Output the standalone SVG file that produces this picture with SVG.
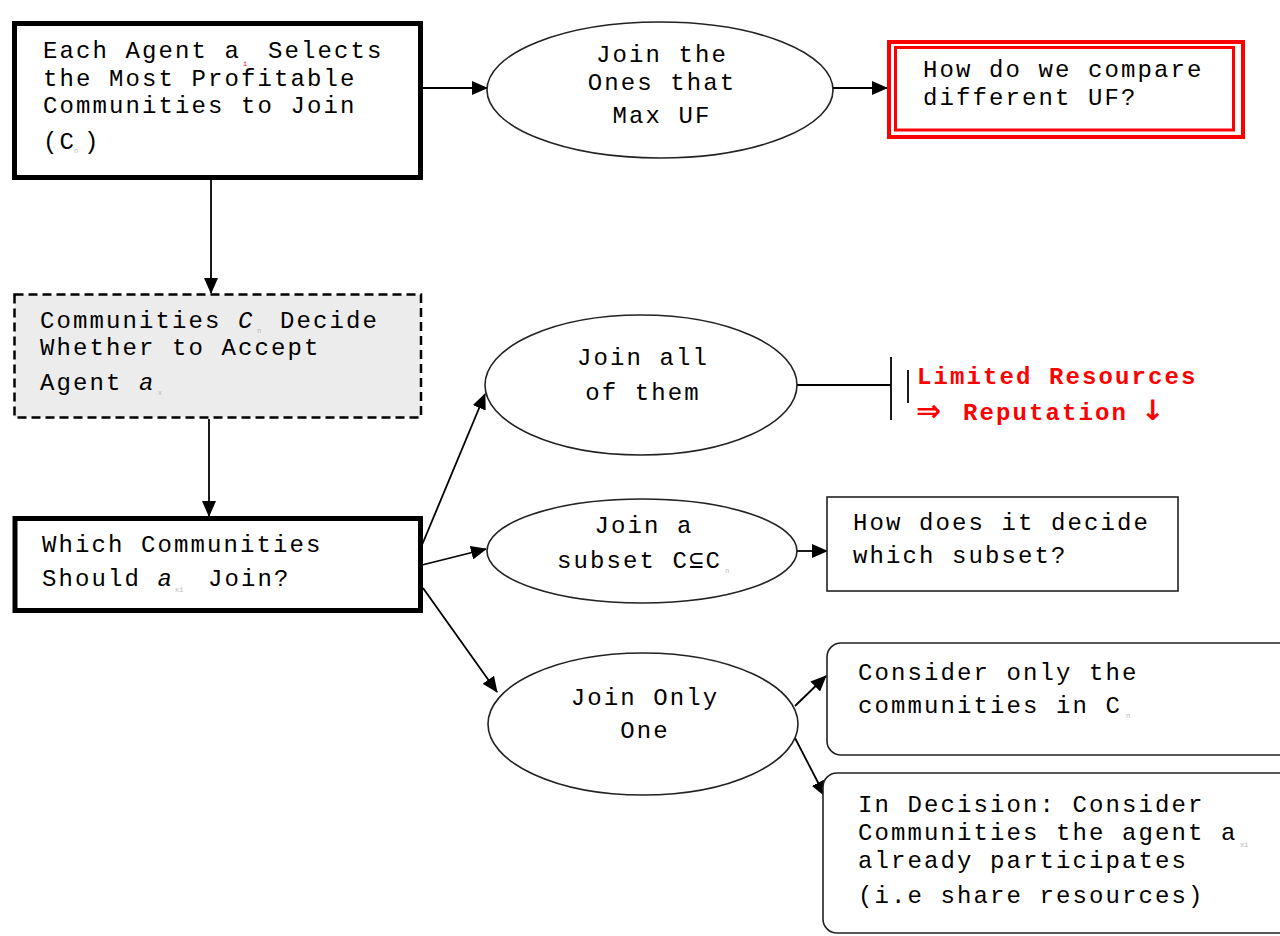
<svg xmlns="http://www.w3.org/2000/svg" width="1280" height="936" viewBox="0 0 1280 936">
  <defs>
    <marker id="arrow" markerUnits="userSpaceOnUse" markerWidth="16" markerHeight="14" refX="15" refY="7" orient="auto">
      <path d="M0,0 L16,7 L0,14 Z" fill="#000"/>
    </marker>
    <style>
      .t { font-family: "Liberation Mono", "DejaVu Sans Mono", monospace; font-size: 24px; letter-spacing: 2.1px; fill: #000; }
      .c { text-anchor: middle; }
      .red { font-weight: bold; fill: #ff0000; }
      .sym { font-family: "DejaVu Sans", sans-serif; font-weight: bold; fill: #ff0000; }
      .sub { font-family: "Liberation Mono", "DejaVu Sans Mono", monospace; font-size: 7px; fill: #b8b8b8; }
      .thick { fill: #fff; stroke: #000; stroke-width: 5; }
      .oval { fill: #fff; stroke: #222; stroke-width: 1.6; }
      .plain { fill: #fff; stroke: #222; stroke-width: 1.6; }
      .conn { stroke: #000; stroke-width: 1.8; fill: none; }
    </style>
  </defs>
  <rect width="1280" height="936" fill="#fff"/>

  <!-- connectors -->
  <g id="connectors">
    <line class="conn" x1="423" y1="88" x2="487" y2="88" marker-end="url(#arrow)"/>
    <line class="conn" x1="833" y1="88" x2="887" y2="88" marker-end="url(#arrow)"/>
    <line class="conn" x1="211" y1="180" x2="211" y2="293" marker-end="url(#arrow)"/>
    <line class="conn" x1="209" y1="419" x2="209" y2="516" marker-end="url(#arrow)"/>
    <line class="conn" x1="422" y1="545" x2="485" y2="394" marker-end="url(#arrow)"/>
    <line class="conn" x1="422" y1="565" x2="486" y2="549" marker-end="url(#arrow)"/>
    <line class="conn" x1="423" y1="588" x2="497" y2="692" marker-end="url(#arrow)"/>
    <line class="conn" x1="797" y1="551" x2="827" y2="551" marker-end="url(#arrow)"/>
    <line class="conn" x1="795" y1="706" x2="826" y2="676" marker-end="url(#arrow)"/>
    <line class="conn" x1="795" y1="738" x2="825" y2="796" marker-end="url(#arrow)"/>
    <!-- blocked path: line ending in a double bar -->
    <line class="conn" x1="797" y1="385" x2="891" y2="385"/>
    <line class="conn" x1="891" y1="357" x2="891" y2="420"/>
    <line class="conn" x1="908" y1="370" x2="908" y2="403"/>
  </g>

  <g id="select">
    <rect class="thick" x="14.5" y="23.5" width="406" height="154"/>
    <text class="t" x="43" y="58">Each Agent a</text>
    <text class="sub" x="243" y="66" style="fill:#ff0000">i</text>
    <text class="t" x="268" y="58">Selects</text>
    <text class="t" x="43" y="86">the Most Profitable</text>
    <text class="t" x="43" y="113">Communities to Join</text>
    <text class="t" x="43" y="149">(C</text>
    <text class="sub" x="74" y="153">n</text>
    <text class="t" x="84" y="149">)</text>
  </g>

  <g id="max-uf">
    <ellipse class="oval" cx="660" cy="90" rx="173" ry="68"/>
    <text class="t c" x="662" y="62">Join the</text>
    <text class="t c" x="662" y="90">Ones that</text>
    <text class="t c" x="662" y="123">Max UF</text>
  </g>

  <g id="compare-uf">
    <rect x="889" y="42" width="354" height="95" fill="#fff" stroke="#ff0000" stroke-width="4"/>
    <rect x="895.5" y="47.5" width="338" height="82.5" fill="none" stroke="#ff0000" stroke-width="3"/>
    <text class="t" x="923" y="77">How do we compare</text>
    <text class="t" x="923" y="105">different UF?</text>
  </g>

  <g id="accept">
    <rect x="14.5" y="294.5" width="406.5" height="123" fill="#ececec" stroke="#000" stroke-width="2.5" stroke-dasharray="9 5"/>
    <text class="t" x="40" y="328">Communities <tspan font-style="italic">C</tspan></text>
    <text class="sub" x="257" y="333">n</text>
    <text class="t" x="280" y="328">Decide</text>
    <text class="t" x="40" y="355">Whether to Accept</text>
    <text class="t" x="40" y="390">Agent <tspan font-style="italic">a</tspan></text>
    <text class="sub" x="158" y="395">x</text>
  </g>

  <g id="which">
    <rect class="thick" x="15" y="518.5" width="405.5" height="92"/>
    <text class="t" x="42" y="552">Which Communities</text>
    <text class="t" x="42" y="586">Should <tspan font-style="italic">a</tspan></text>
    <text class="sub" x="175" y="592">xi</text>
    <text class="t" x="208" y="586">Join?</text>
  </g>

  <g id="join-all">
    <ellipse class="oval" cx="641" cy="385" rx="156" ry="70"/>
    <text class="t c" x="643" y="365">Join all</text>
    <text class="t c" x="643" y="400">of them</text>
  </g>

  <g id="limited">
    <text class="t red" x="917" y="384">Limited Resources</text>
    <text class="sym" x="916" y="421" font-size="30">⇒</text>
    <text class="t red" x="963" y="420">Reputation</text>
    <text class="sym" x="1141" y="420" font-size="28">↓</text>
  </g>

  <g id="join-subset">
    <ellipse class="oval" cx="642" cy="551" rx="155" ry="52"/>
    <text class="t c" x="644" y="533">Join a</text>
    <text class="t" x="557" y="568">subset C⊆C</text>
    <text class="sub" x="725" y="573">n</text>
  </g>

  <g id="which-subset">
    <rect class="plain" x="827" y="497" width="351" height="94"/>
    <text class="t" x="853" y="530">How does it decide</text>
    <text class="t" x="853" y="563">which subset?</text>
  </g>

  <g id="join-one">
    <ellipse class="oval" cx="643" cy="724" rx="155" ry="71"/>
    <text class="t c" x="645" y="705">Join Only</text>
    <text class="t c" x="645" y="738">One</text>
  </g>

  <g id="only-cn">
    <rect class="plain" x="827" y="643" width="470" height="112" rx="14"/>
    <text class="t" x="858" y="680">Consider only the</text>
    <text class="t" x="858" y="713">communities in C</text>
    <text class="sub" x="1126" y="718">n</text>
  </g>

  <g id="in-decision">
    <rect class="plain" x="823" y="773" width="470" height="160" rx="14"/>
    <text class="t" x="858" y="812">In Decision: Consider</text>
    <text class="t" x="858" y="840">Communities the agent a</text>
    <text class="sub" x="1240" y="847">xi</text>
    <text class="t" x="858" y="868">already participates</text>
    <text class="t" x="858" y="903">(i.e share resources)</text>
  </g>
</svg>
